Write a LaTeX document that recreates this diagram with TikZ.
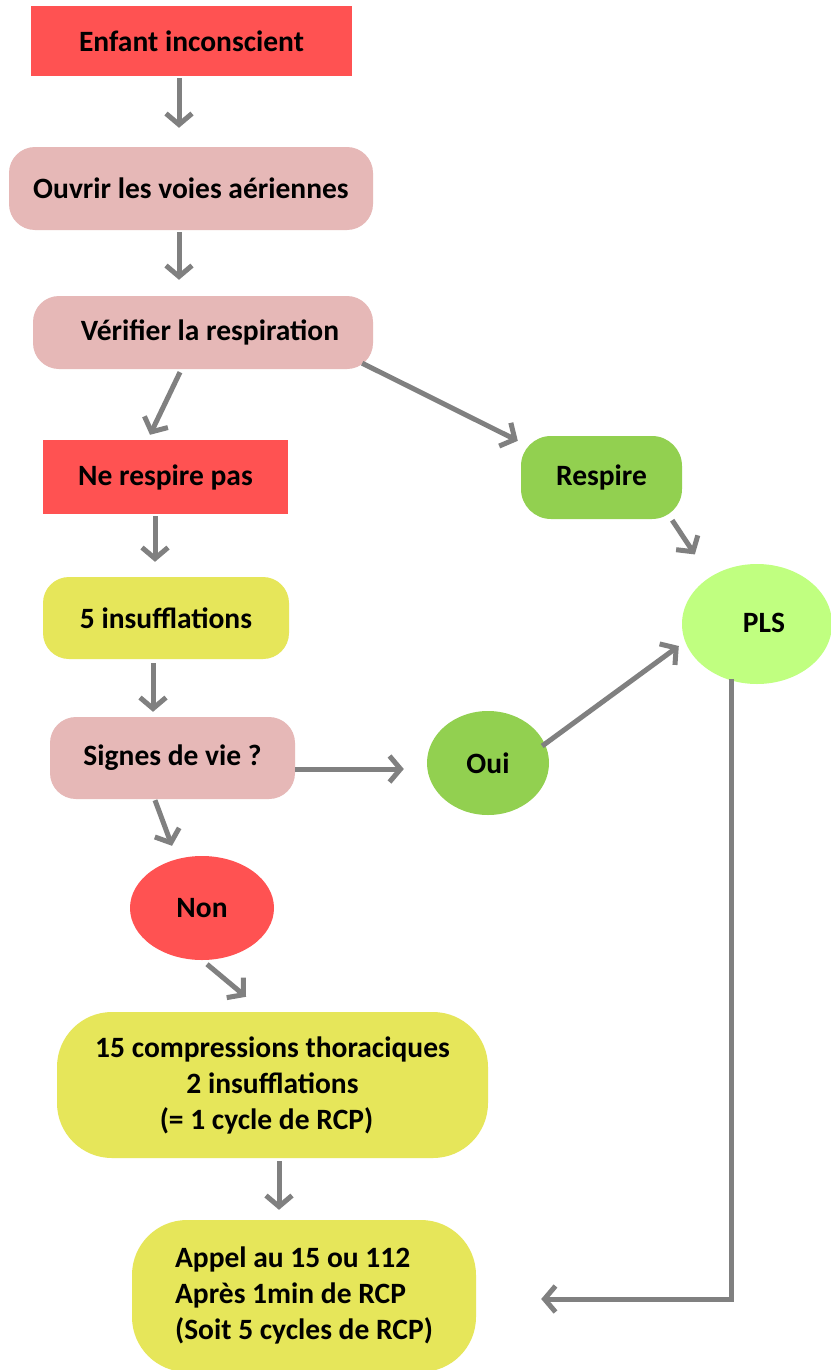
\documentclass[tikz,border=0pt]{standalone}
\usepackage{fontspec}
\setmainfont{Carlito}
\usetikzlibrary{arrows.meta,shapes.geometric}
\definecolor{cred}{HTML}{FF5252}
\definecolor{cpink}{HTML}{E6B8B7}
\definecolor{cgreen}{HTML}{92D050}
\definecolor{clight}{HTML}{C0FF80}
\definecolor{cyellow}{HTML}{E6E65A}
\definecolor{cgray}{HTML}{808080}
\tikzset{
  base/.style={font=\bfseries\fontsize{29.5}{36}\selectfont, align=center, inner sep=0pt, draw=none},
  rectbox/.style={base, rectangle, fill=cred},
  rbox/.style={base, rectangle, rounded corners=26pt},
  ellbox/.style={base, ellipse},
  arr/.style={draw=cgray, line width=5pt, -{Straight Barb[length=11pt,width=26pt]}},
}
\begin{document}
\begin{tikzpicture}[x=1pt,y=-1pt]
\useasboundingbox (0,0) rectangle (830,1370);
\fill[white] (0,0) rectangle (830,1370);

\node[rectbox, minimum width=321pt, minimum height=70pt] (n1) at (191.5,41) {\raisebox{-4pt}{Enfant inconscient}};
\node[rbox, fill=cpink, minimum width=364pt, minimum height=83pt] (n2) at (191,188.5) {Ouvrir les voies aériennes};
\node[rbox, fill=cpink, minimum width=340pt, minimum height=73pt] (n3) at (203,332.5) {\hspace*{14pt}Vérifier la respiration};
\node[rectbox, minimum width=245pt, minimum height=74pt] (n4) at (165.5,477) {Ne respire pas};
\node[rbox, fill=cgreen, rounded corners=30pt, minimum width=161pt, minimum height=83pt] (n5) at (601.5,477.5) {Respire};
\node[ellbox, fill=clight, minimum width=150pt, minimum height=120pt] (n6) at (757,624) {\hspace*{14pt}\raisebox{3pt}{PLS}};
\node[rbox, fill=cyellow, minimum width=246pt, minimum height=82pt] (n7) at (166,618) {5 insufflations};
\node[rbox, fill=cpink, minimum width=245pt, minimum height=82pt] (n8) at (172.5,758) {Signes de vie ?};
\node[ellbox, fill=cgreen, minimum width=122pt, minimum height=104pt] (n9) at (488,763) {Oui};
\node[ellbox, fill=cred, minimum width=144pt, minimum height=104pt] (n10) at (202,908) {Non};
\node[rbox, fill=cyellow, rounded corners=55pt, minimum width=431pt, minimum height=146pt] (n11) at (272.5,1085) {15 compressions thoraciques\\2 insufflations\hspace*{10pt}\\(= 1 cycle de RCP)\hspace*{12pt}};
\node[rbox, fill=cyellow, rounded corners=55pt, minimum width=344pt, minimum height=152pt] (n12) at (304,1296) {\begin{tabular}{@{}l@{}}Appel au 15 ou 112\\Après 1min de RCP\\(Soit 5 cycles de RCP)\end{tabular}};

\draw[arr] ([xshift=-12.5pt,yshift=-2pt]n1.south) -- ([xshift=-12pt,yshift=19pt]n2.north);
\draw[arr] ([xshift=-12pt,yshift=-2pt]n2.south) -- ([xshift=-24pt,yshift=16pt]n3.north);
\draw[arr] ([xshift=-23pt,yshift=-3pt]n3.south) -- ([xshift=-15.5pt,yshift=5pt]n4.north);
\draw[arr] ([xshift=-11pt,yshift=6pt]n3.south east) -- ([xshift=-3pt,yshift=-5pt]n5.north west);
\draw[arr] ([xshift=-10.5pt,yshift=-2pt]n4.south) -- ([xshift=-11pt,yshift=15pt]n7.north);
\draw[arr] ([xshift=-10pt,yshift=-1pt]n5.south east) -- ([xshift=-9pt,yshift=27pt]n6.north west);
\draw[arr] ([xshift=-13pt,yshift=-4pt]n7.south) -- ([xshift=-19.5pt,yshift=5pt]n8.north);
\draw[arr] ([yshift=-11pt]n8.east) -- ([xshift=-23pt,yshift=-6pt]n9.west);
\draw[arr] ([xshift=-7pt,yshift=17pt]n9.east) -- ([xshift=-3pt,yshift=-22pt]n6.west);
\draw[arr] ([xshift=-17.5pt,yshift=-1pt]n8.south) -- ([xshift=-30pt,yshift=10pt]n10.north);
\draw[arr] ([xshift=5pt,yshift=-4pt]n10.south) -- ([xshift=-26.5pt,yshift=15pt]n11.north);
\draw[arr] ([xshift=6.5pt,yshift=-3pt]n11.south) -- ([xshift=-25pt,yshift=10pt]n12.north);
\draw[arr] ([xshift=-26pt,yshift=5pt]n6.south) |- ([xshift=65pt,yshift=-3pt]n12.east);
\end{tikzpicture}
\end{document}
